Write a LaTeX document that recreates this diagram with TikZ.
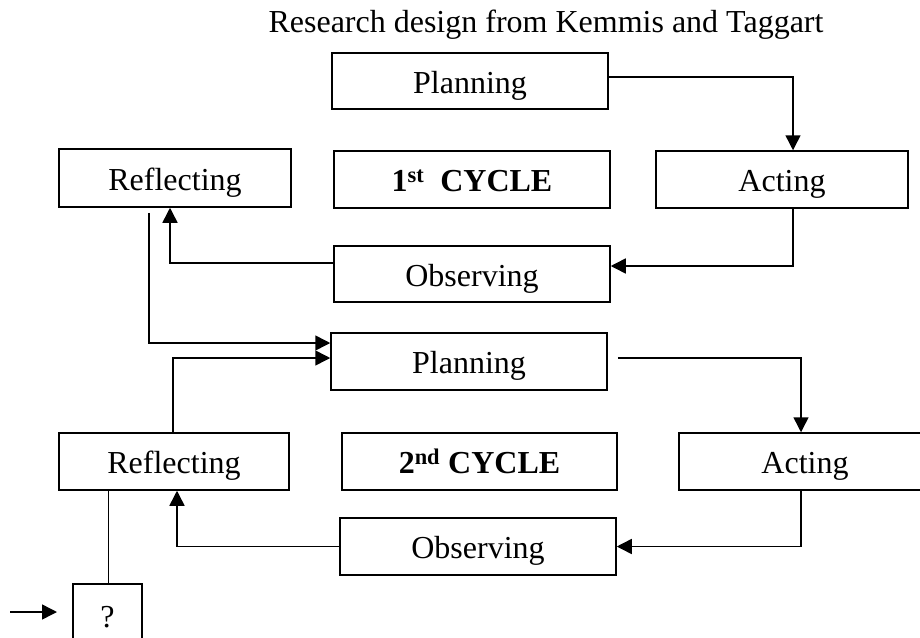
\documentclass[tikz,border=0pt]{standalone}
\usepackage{fontspec}
\setmainfont{Liberation Serif}
\usetikzlibrary{arrows.meta,calc}
\begin{document}
\begin{tikzpicture}[x=1pt,y=-1pt,
  every node/.style={font=\fontsize{32}{38}\selectfont},
  box/.style={draw,line width=1.5pt,inner sep=0pt,align=center,text height=26pt,text depth=2pt},
  qbox/.style={draw,line width=1.5pt,inner sep=0pt,align=center},
  arr/.style={line width=1.5pt,-{Triangle[length=15pt,width=15pt]}},
  ln/.style={line width=1.5pt}]
\useasboundingbox (0,0) rectangle (920,637);
\node (title) at (546,25) {Research design from Kemmis and Taggart};
\node[box,minimum width=276pt,minimum height=56pt] (plan1) at (470,81) {Planning};
\node[box,minimum width=232pt,minimum height=58pt] (refl1) at (175,178) {Reflecting};
\node[box,minimum width=276pt,minimum height=57pt] (cyc1) at (472,179.5) {\textbf{1\textsuperscript{st}\ \ CYCLE}};
\node[box,minimum width=252pt,minimum height=57pt] (act1) at (782,179.5) {Acting};
\node[box,minimum width=276pt,minimum height=56pt] (obs1) at (472,274) {Observing};
\node[box,minimum width=276pt,minimum height=57pt] (plan2) at (469,361.5) {Planning};
\node[box,minimum width=230pt,minimum height=57pt] (refl2) at (174,461.5) {Reflecting};
\node[box,minimum width=275pt,minimum height=57pt] (cyc2) at (479.5,461.5) {\textbf{2\textsuperscript{nd} CYCLE}};
\node[box,minimum width=252pt,minimum height=57pt] (act2) at (805,461.5) {Acting};
\node[box,minimum width=276pt,minimum height=57pt] (obs2) at (478,546.5) {Observing};
\node[qbox,minimum width=69pt,minimum height=66pt] (q) at (107.5,617) {?};
\coordinate (qin) at (10,612);
\coordinate (qout) at (57,612);
% cycle 1
\draw[arr] ([yshift=4pt]plan1.east) -| ([xshift=11pt]act1.north);
\draw[arr] ([xshift=11pt]act1.south) |- ([yshift=8pt]obs1.east);
\draw[arr] ([yshift=11pt]obs1.west) -| ([xshift=-5pt]refl1.south);
\draw[arr] ([xshift=-26pt,yshift=-5pt]refl1.south) |- ([yshift=18.5pt]plan2.west);
% cycle 2
\draw[arr] ([xshift=-1pt]refl2.north) |- ([yshift=3.5pt]plan2.west);
\draw[arr] ([xshift=10pt,yshift=3.5pt]plan2.east) -| ([xshift=-4pt]act2.north);
\draw[arr] ([xshift=-4pt]act2.south) |- (obs2.east);
\draw[arr] (obs2.west) -| ([xshift=3pt]refl2.south);
\draw[ln] ([xshift=1pt]q.north |- refl2.south) -- ([xshift=1pt]q.north);
\draw[arr] (qin) -- (qout);
\end{tikzpicture}
\end{document}
